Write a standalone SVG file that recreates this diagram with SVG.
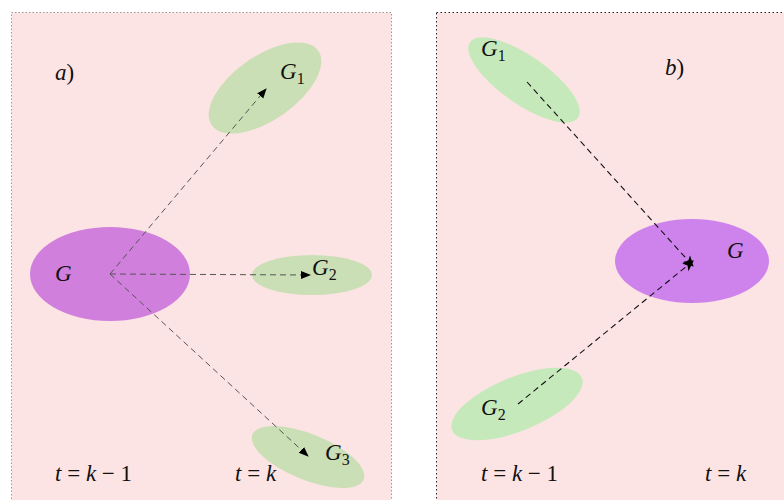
<svg xmlns="http://www.w3.org/2000/svg" width="784" height="500" viewBox="0 0 784 500">
<defs>
<style>
.t{font-family:"Liberation Serif","DejaVu Serif",serif;font-style:italic;font-size:23px;fill:#111}
.r{font-style:normal}
.s{font-size:16px;font-style:normal}
.ga{fill:#cbdfb6}
.gb{fill:#c6e9bc}
.ca{stroke:#555;stroke-width:1;stroke-dasharray:6,4;fill:none}
.cb{stroke:#111;stroke-width:1.1;stroke-dasharray:6,4;fill:none}
</style>
<marker id="ah" viewBox="0 0 10 10" refX="9" refY="5" markerWidth="10" markerHeight="10" markerUnits="userSpaceOnUse" orient="auto">
<path d="M0,1 L10,5 L0,9 Z" fill="#000"/>
</marker>
<marker id="ah2" viewBox="0 0 12 12" refX="10" refY="6" markerWidth="12" markerHeight="12" markerUnits="userSpaceOnUse" orient="auto">
<path d="M0,1 L11,6 L0,11 L3,6 Z" fill="#000"/>
</marker>
</defs>
<rect x="0" y="0" width="784" height="500" fill="#fff"/>
<g id="panel-a">
<rect x="11.5" y="12.5" width="380" height="495" fill="#fde4e4" stroke="#999" stroke-width="1" stroke-dasharray="1.5,2"/>
</g>
<g id="panel-b">
<rect x="436.5" y="12.5" width="360" height="495" fill="#fde4e4" stroke="#222" stroke-width="1" stroke-dasharray="1.5,2.5"/>
</g>
<g id="a-G"><ellipse cx="110" cy="274" rx="80" ry="47" fill="#d07fdc"/><text class="t" x="55" y="281">G</text></g>
<g id="a-G1"><ellipse class="ga" cx="265" cy="88" rx="65" ry="32" transform="rotate(-35 265 88)"/><text class="t" x="280" y="79">G<tspan class="s" dy="5">1</tspan></text></g>
<g id="a-G2"><ellipse class="ga" cx="312" cy="275" rx="60" ry="20"/><text class="t" x="312" y="275">G<tspan class="s" dy="5">2</tspan></text></g>
<g id="a-G3"><ellipse class="ga" cx="308" cy="457" rx="60" ry="23" transform="rotate(22 308 457)"/><text class="t" x="325" y="460">G<tspan class="s" dy="5">3</tspan></text></g>
<g id="b-G1"><ellipse class="gb" cx="524" cy="80" rx="66" ry="24" transform="rotate(35 524 80)"/><text class="t" x="481" y="56">G<tspan class="s" dy="5">1</tspan></text></g>
<g id="b-G"><ellipse cx="692" cy="261" rx="77" ry="42" fill="#cd82ec"/><text class="t" x="727" y="258">G</text></g>
<g id="b-G2"><ellipse class="gb" cx="517" cy="404" rx="70" ry="27" transform="rotate(-22 517 404)"/><text class="t" x="481" y="415">G<tspan class="s" dy="5">2</tspan></text></g>
<g id="labels">
<text class="t" x="55" y="80">a<tspan class="r">)</tspan></text>
<text class="t" x="665" y="75">b<tspan class="r">)</tspan></text>
<text class="t" x="55" y="481">t <tspan class="r">=</tspan> k <tspan class="r">− 1</tspan></text>
<text class="t" x="235" y="481">t <tspan class="r">=</tspan> k</text>
<text class="t" x="481" y="481">t <tspan class="r">=</tspan> k <tspan class="r">− 1</tspan></text>
<text class="t" x="705" y="481">t <tspan class="r">=</tspan> k</text>
</g>
<g id="connectors">
<line class="ca" x1="110" y1="274" x2="266" y2="89" marker-end="url(#ah)"/>
<line class="ca" x1="110" y1="274" x2="310" y2="275" marker-end="url(#ah)"/>
<line class="ca" x1="110" y1="274" x2="308" y2="456" marker-end="url(#ah)"/>
<line class="cb" x1="527" y1="82" x2="693" y2="266" marker-end="url(#ah2)"/>
<line class="cb" x1="518" y1="404" x2="693" y2="261" marker-end="url(#ah2)"/>
</g>
</svg>
